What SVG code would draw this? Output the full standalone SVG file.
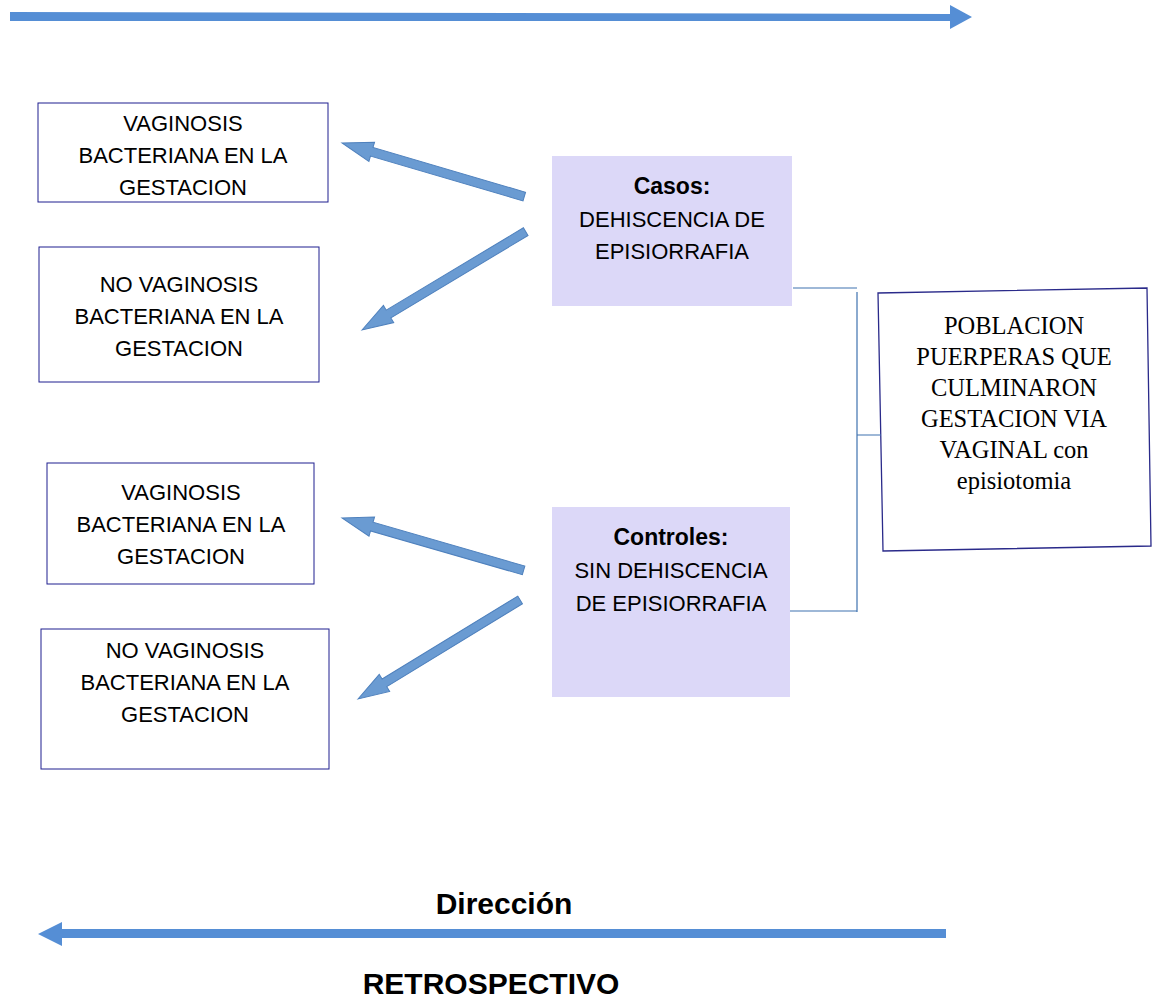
<svg xmlns="http://www.w3.org/2000/svg" width="1152" height="998" viewBox="0 0 1152 998">
<style>
.box{fill:#fff;stroke:#1f1f8f;stroke-width:1}
.grp{fill:#dcd8f8;stroke:none}
.t{font-family:"Liberation Sans",Arial,sans-serif;font-size:22px;fill:#000;text-anchor:middle}
.b{font-weight:bold;font-size:23px}
.s{font-family:"Liberation Serif","Times New Roman",serif;font-size:24.5px;fill:#000;text-anchor:middle}
.h{font-family:"Liberation Sans",Arial,sans-serif;font-size:30px;font-weight:bold;fill:#000;text-anchor:middle}
.ba{fill:#6a9bd2;stroke:#4f81bd;stroke-width:1}
.la{fill:#558ed5;stroke:none}
.ln{fill:none;stroke:#3f72b0;stroke-width:1.2}
</style>
<rect width="1152" height="998" fill="#fff"/>
<g id="time-arrow-top"><polygon class="la" points="10,12 950,14 950,5 972,17 950,29 950,21 10,21"/></g>
<g id="n1"><rect class="box" x="38" y="103" width="290" height="99"/>
<text class="t" x="183" y="131">VAGINOSIS</text><text class="t" x="183" y="163">BACTERIANA EN LA</text><text class="t" x="183" y="195">GESTACION</text></g>
<g id="n2"><rect class="box" x="39" y="247" width="280" height="135"/>
<text class="t" x="179" y="292">NO VAGINOSIS</text><text class="t" x="179" y="324">BACTERIANA EN LA</text><text class="t" x="179" y="356">GESTACION</text></g>
<g id="n3"><rect class="box" x="47" y="463" width="267" height="121"/>
<text class="t" x="181" y="500">VAGINOSIS</text><text class="t" x="181" y="532">BACTERIANA EN LA</text><text class="t" x="181" y="564">GESTACION</text></g>
<g id="n4"><rect class="box" x="41" y="629" width="288" height="140"/>
<text class="t" x="185" y="658">NO VAGINOSIS</text><text class="t" x="185" y="690">BACTERIANA EN LA</text><text class="t" x="185" y="722">GESTACION</text></g>
<g id="casos"><rect class="grp" x="552" y="156" width="240" height="150"/>
<text class="t b" x="672" y="194">Casos:</text><text class="t" x="672" y="227">DEHISCENCIA DE</text><text class="t" x="672" y="259">EPISIORRAFIA</text></g>
<g id="controles"><rect class="grp" x="552" y="507" width="238" height="190"/>
<text class="t b" x="671" y="545">Controles:</text><text class="t" x="671" y="578">SIN DEHISCENCIA</text><text class="t" x="671" y="611">DE EPISIORRAFIA</text></g>
<g id="poblacion"><polygon class="box" points="878,293 1147,288 1151,546 883,551" style="stroke:#2a2a8a;stroke-width:1.3"/>
<text class="s" x="1014" y="334">POBLACION</text><text class="s" x="1014" y="365">PUERPERAS QUE</text><text class="s" x="1014" y="396">CULMINARON</text><text class="s" x="1014" y="427">GESTACION VIA</text><text class="s" x="1014" y="458">VAGINAL con</text><text class="s" x="1014" y="489">episiotomia</text></g>
<g id="connectors">
<path class="ln" d="M793,288 H857 M857,292 V612 M790,611 H857 M857,435 H881"/>
<g transform="translate(342,143) rotate(16.38)"><polygon class="ba" points="0,0 31,-10 31,-4.5 190,-4.5 190,4.5 31,4.5 31,10"/></g>
<g transform="translate(362,330) rotate(-31)"><polygon class="ba" points="0,0 31,-10 31,-4.5 191,-4.5 191,4.5 31,4.5 31,10"/></g>
<g transform="translate(342,518) rotate(16.09)"><polygon class="ba" points="0,0 31,-10 31,-4.5 189,-4.5 189,4.5 31,4.5 31,10"/></g>
<g transform="translate(358,699) rotate(-31.43)"><polygon class="ba" points="0,0 31,-10 31,-4.5 190,-4.5 190,4.5 31,4.5 31,10"/></g>
</g>
<text class="h" x="504" y="914">Dirección</text>
<g id="time-arrow-bottom"><polygon class="la" points="946,929 946,938 62,938 62,946 38,934 62,922 62,929"/></g>
<text class="h" x="491" y="994">RETROSPECTIVO</text>
</svg>
